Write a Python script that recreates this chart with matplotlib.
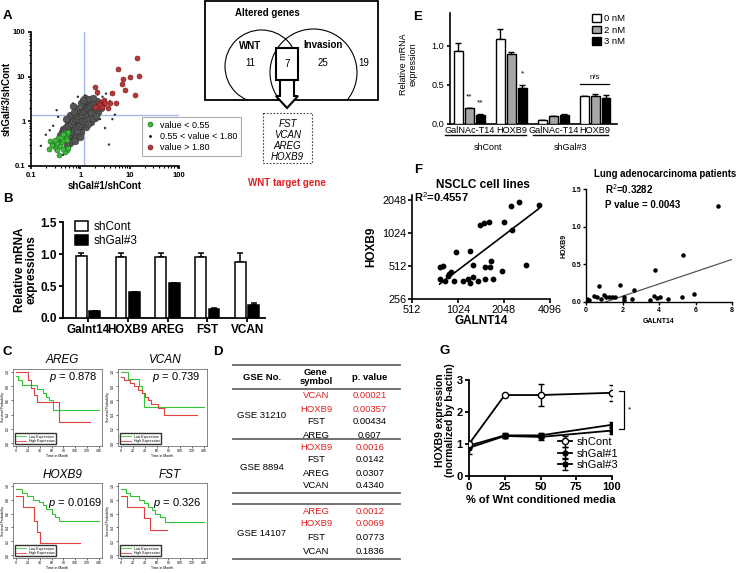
import numpy as np
import matplotlib
matplotlib.use("Agg")
import matplotlib.pyplot as plt
from matplotlib.patches import Rectangle, Circle, Polygon
from matplotlib.lines import Line2D
import matplotlib.ticker as mticker

plt.rcParams['font.family'] = ['Liberation Sans', 'DejaVu Sans']
plt.rcParams['mathtext.fontset'] = 'custom'
plt.rcParams['mathtext.it'] = 'Liberation Sans:italic'
plt.rcParams['mathtext.rm'] = 'Liberation Sans'
plt.rcParams['mathtext.bf'] = 'Liberation Sans:bold'

# ---------------- data ----------------
# A: log10 ratios (shGal#1/shCont, shGal#3/shCont)
grey_lx = [-0.40, -0.36, -0.33, -0.30, -0.28, -0.25, -0.22, -0.20, -0.18, -0.15, -0.12, -0.10, -0.08, -0.05, -0.03,
           0.00, 0.02, 0.05, 0.07, 0.10, 0.12, 0.15, 0.18, 0.20, 0.23, 0.26, 0.28, 0.32, 0.35, 0.40,
           -0.35, -0.30, -0.25, -0.20, -0.15, -0.10, -0.05, 0.00, 0.05, 0.10, 0.15, 0.20, 0.08, -0.08, -0.20, -0.30, 0.02, -0.12,
           -0.28, -0.22, -0.16, -0.10, -0.05, 0.00, 0.05, 0.10, 0.15, 0.20, 0.25, 0.30, 0.35, 0.12, 0.02, -0.08, 0.22, 0.30,
           -0.38, -0.34, -0.32, -0.27, -0.24, -0.23, -0.19, -0.17, -0.14, -0.13, -0.11, -0.09, -0.07, -0.06, -0.04,
           -0.02, -0.01, 0.01, 0.03, 0.04, 0.06, 0.08, 0.09, 0.11, 0.13, 0.14, 0.16, 0.17, 0.19, 0.21, 0.24, 0.25,
           0.27, 0.29, 0.31, 0.33, 0.37, 0.42, -0.42, -0.44, -0.26, 0.15, 0.45,
           -0.20, -0.10, 0.00, 0.10, 0.18, -0.28, -0.15, 0.05, 0.25]
grey_ly = [-0.38, -0.30, -0.34, -0.25, -0.30, -0.20, -0.26, -0.15, -0.20, -0.10, -0.16, -0.05, -0.10, 0.00, -0.06,
           0.05, -0.02, 0.10, 0.03, 0.15, 0.08, 0.20, 0.14, 0.26, 0.20, 0.32, 0.25, 0.36, 0.30, 0.42,
           -0.18, -0.12, -0.06, 0.00, 0.06, 0.12, 0.18, 0.22, 0.28, 0.33, 0.38, 0.42, 0.45, 0.30, 0.15, 0.05, 0.40, 0.22,
           -0.42, -0.36, -0.30, -0.24, -0.18, -0.12, -0.06, 0.00, 0.05, 0.10, 0.15, 0.20, 0.22, -0.12, -0.25, -0.36, -0.02, 0.08,
           -0.25, -0.22, -0.40, -0.35, -0.10, -0.30, -0.05, -0.25, 0.00, -0.20, 0.05, -0.15, 0.10, -0.22, 0.05,
           -0.10, 0.12, -0.05, 0.15, 0.00, 0.20, -0.02, 0.24, 0.04, 0.28, 0.12, 0.30, 0.05, 0.34, 0.18, 0.38, 0.08,
           0.40, 0.30, 0.12, 0.45, 0.36, 0.30, -0.30, -0.45, -0.45, -0.05, 0.40,
           -0.48, -0.45, -0.35, 0.52, 0.50, -0.52, 0.35, 0.48, 0.52]
grey_out_lx = [-0.70, -0.55, -0.60, -0.45, -0.50, 0.40, 0.45, 0.25, -0.15, 0.55, 0.50, 0.58, -0.35, -0.20, 0.60,
               0.35, -0.05, 0.70, -0.80, 0.65, -0.62, 0.52, -0.48, 0.10]
grey_out_ly = [-0.30, -0.10, -0.50, 0.10, -0.65, 0.05, 0.55, 0.55, 0.40, 0.30, -0.15, -0.52, -0.75, -0.55, 0.45,
               0.60, 0.55, 0.15, -0.55, 0.05, -0.20, 0.62, 0.25, 0.58]
green_lx = [-0.616, -0.629, -0.427, -0.278, -0.312, -0.514, -0.548, -0.481, -0.413, -0.380, -0.346, -0.292,
            -0.278, -0.312, -0.245, -0.447, -0.514, -0.582, -0.359, -0.258, -0.400, -0.467, -0.346, -0.278]
green_ly = [-0.448, -0.612, -0.746, -0.649, -0.687, -0.575, -0.515, -0.485, -0.560, -0.463, -0.410, -0.351,
            -0.291, -0.261, -0.239, -0.366, -0.425, -0.537, -0.612, -0.590, -0.351, -0.634, -0.276, -0.425]
red_lx = [1.158, 0.773, 1.185, 1.003, 0.868, 0.854, 0.915, 1.104, 0.645, 0.295, 0.342, 0.720, 0.610, 0.570,
          0.33, 0.38, 0.42, 0.45, 0.48, 0.36, 0.40, 0.44, 0.30, 0.47, 0.50]
red_ly = [1.425, 1.179, 1.015, 0.985, 0.940, 0.843, 0.709, 0.597, 0.627, 0.761, 0.649, 0.410, 0.400, 0.300,
          0.35, 0.40, 0.43, 0.38, 0.44, 0.32, 0.36, 0.33, 0.33, 0.47, 0.40]
cut_x = 1.18
cut_y = 1.36

# Venn
venn_counts = {'WNT': 11, 'both': 7, 'Invasion': 25, 'none': 19}
wnt_targets = ['FST', 'VCAN', 'AREG', 'HOXB9']

# B
b_genes = ['Galnt14', 'HOXB9', 'AREG', 'FST', 'VCAN']
b_shcont = [0.97, 0.96, 0.95, 0.96, 0.87]
b_shcont_err = [0.04, 0.06, 0.07, 0.06, 0.15]
b_shgal3 = [0.11, 0.41, 0.54, 0.14, 0.20]
b_shgal3_err = [0.00, 0.00, 0.00, 0.01, 0.03]

# C: Kaplan-Meier (time in month, survival probability)
km_genes = ['AREG', 'VCAN', 'HOXB9', 'FST']
km_p = ['0.878', '0.739', '0.0169', '0.326']
km_low_t = [[0, 3, 10, 25, 35, 45, 50, 55, 62, 140],
            [0, 11, 30, 35, 39, 140],
            [0, 10, 18, 28, 38, 45, 50, 60, 65, 72, 140],
            [0, 8, 15, 30, 38, 45, 52, 58, 65, 75, 140]]
km_low_s = [[0.94, 0.88, 0.82, 0.82, 0.76, 0.70, 0.65, 0.60, 0.47, 0.47],
            [1.0, 0.90, 0.80, 0.70, 0.51, 0.51],
            [0.95, 0.90, 0.85, 0.80, 0.77, 0.72, 0.66, 0.60, 0.55, 0.50, 0.50],
            [0.95, 0.90, 0.85, 0.80, 0.75, 0.70, 0.65, 0.60, 0.55, 0.48, 0.48]]
km_high_t = [[0, 20, 25, 30, 36, 72, 125],
             [0, 5, 15, 22, 28, 35, 40, 45, 50, 62, 72, 128],
             [0, 12, 30, 35, 40, 108],
             [0, 10, 38, 48, 78]]
km_high_s = [[1.0, 0.88, 0.78, 0.68, 0.58, 0.30, 0.30],
             [0.93, 0.88, 0.85, 0.80, 0.75, 0.70, 0.65, 0.60, 0.55, 0.50, 0.40, 0.40],
             [0.85, 0.70, 0.50, 0.33, 0.17, 0.17],
             [0.85, 0.70, 0.53, 0.37, 0.37]]

# D
gse_ids = ['GSE 31210', 'GSE 8894', 'GSE 14107']
gse_genes = [['VCAN', 'HOXB9', 'FST', 'AREG'],
             ['HOXB9', 'FST', 'AREG', 'VCAN'],
             ['AREG', 'HOXB9', 'FST', 'VCAN']]
gse_pvals = [['0.00021', '0.00357', '0.00434', '0.607'],
             ['0.0016', '0.0142', '0.0307', '0.4340'],
             ['0.0012', '0.0069', '0.0773', '0.1836']]
gse_nsig = [2, 1, 2]

# E
e_groups = ['GalNAc-T14', 'HOXB9', 'GalNAc-T14', 'HOXB9']
e_doses = ['0 nM', '2 nM', '3 nM']
e_vals = [[0.93, 1.09, 0.05, 0.36],
          [0.20, 0.89, 0.10, 0.36],
          [0.12, 0.46, 0.12, 0.33]]
e_errs = [[0.10, 0.12, 0.005, 0.0],
          [0.0, 0.03, 0.005, 0.02],
          [0.01, 0.04, 0.005, 0.04]]

# F left: NSCLC cell lines
f1_x = [2280, 2556, 3465, 2043, 2320, 1420, 1518, 1630, 995, 1226, 776, 821, 1690, 1538, 1653, 1287,
        922, 899, 876, 776, 848, 970, 1107, 1183, 1226, 1293, 1387, 1531, 1745, 1975, 2856]
f1_y = [1835, 1965, 1870, 1305, 1089, 1226, 1261, 1296, 690, 704, 498, 519, 568, 508, 508, 523,
        449, 433, 418, 392, 374, 374, 376, 387, 356, 409, 374, 392, 392, 464, 523]
f1_fit = (1.065, -1.77)   # log2(y) = a*log2(x) + b
f1_fit_range = (776, 3465)
# F right: patients
f2_x = [7.23, 5.3, 3.8, 0.73, 1.88, 2.65, 5.9, 5.26, 3.7, 3.9, 4.07, 3.5, 4.5, 2.5, 2.1, 2.1,
        0.97, 1.1, 1.24, 1.42, 1.57, 0.42, 0.6, 0.15, 0.05, 0.8]
f2_y = [1.28, 0.63, 0.43, 0.21, 0.22, 0.16, 0.10, 0.07, 0.08, 0.05, 0.07, 0.03, 0.04, 0.04, 0.06, 0.03,
        0.09, 0.07, 0.06, 0.06, 0.07, 0.08, 0.06, 0.03, 0.04, 0.04]
f2_fit = (0.0814, -0.086)
f2_fit_range = (1.06, 8.0)

# G
g_x = [0, 25, 50, 100]
g_shcont = [1.0, 2.53, 2.53, 2.60]
g_shcont_err = [0.0, 0.03, 0.35, 0.25]
g_shgal1 = [0.88, 1.25, 1.22, 1.42]
g_shgal1_err = [0.2, 0.05, 0.1, 0.12]
g_shgal3 = [0.95, 1.27, 1.27, 1.60]
g_shgal3_err = [0.05, 0.08, 0.07, 0.1]

# ---------------- figure ----------------
W, H = 741, 573
fig = plt.figure(figsize=(W / 100, H / 100), dpi=100)


def px_axes(x0, y0, x1, y1):
    return fig.add_axes([x0 / W, 1 - y1 / H, (x1 - x0) / W, (y1 - y0) / H])


def gp_style(ax, fs=8, weight='bold', lw=1.3, length=3):
    ax.spines['top'].set_visible(False)
    ax.spines['right'].set_visible(False)
    ax.spines['left'].set_linewidth(lw)
    ax.spines['bottom'].set_linewidth(lw)
    ax.tick_params(width=lw, length=length, labelsize=fs, pad=1.5)
    for lab in ax.get_xticklabels() + ax.get_yticklabels():
        lab.set_fontweight(weight)


ov = fig.add_axes([0, 0, 1, 1], zorder=10)
ov.set_xlim(0, W)
ov.set_ylim(H, 0)
ov.axis('off')
ov.patch.set_alpha(0)

for letter, (lx, ly) in {'A': (7, 16), 'B': (8, 199), 'C': (7, 352), 'D': (218, 352),
                         'E': (418, 17), 'F': (418, 170), 'G': (445, 351)}.items():
    ov.text(lx, ly, letter, fontsize=9.5, fontweight='bold', ha='center', va='center')

# ---- A ----
axA = px_axes(31, 32, 179, 166)
axA.set_xscale('log')
axA.set_yscale('log')
axA.axvline(cut_x, color='#a9b9e9', lw=1, zorder=0)
axA.axhline(cut_y, color='#a9b9e9', lw=1, zorder=0)
axA.scatter(10 ** np.array(grey_out_lx), 10 ** np.array(grey_out_ly), s=3, c='#333333',
            edgecolors='none', zorder=2)
axA.scatter(10 ** np.array(grey_lx), 10 ** np.array(grey_ly), s=24, c='#555555',
            edgecolors='#2a2a2a', linewidths=0.3, zorder=2)
axA.scatter(10 ** np.array(green_lx), 10 ** np.array(green_ly), s=13, c='#3dbb3d',
            edgecolors='#1d6e1d', linewidths=0.4, zorder=3)
axA.scatter(10 ** np.array(red_lx), 10 ** np.array(red_ly), s=13, c='#b33a3a',
            edgecolors='#7a1818', linewidths=0.4, zorder=3)
axA.set_xlim(0.1, 100)
axA.set_ylim(0.1, 100)
for axis in (axA.xaxis, axA.yaxis):
    axis.set_major_locator(mticker.FixedLocator([0.1, 1, 10, 100]))
    axis.set_major_formatter(mticker.FixedFormatter(['0.1', '1', '10', '100']))
    axis.set_minor_locator(mticker.LogLocator(subs=np.arange(2, 10)))
    axis.set_minor_formatter(mticker.NullFormatter())
gp_style(axA, fs=5.5, lw=1.2, length=2.5)
axA.tick_params(which='minor', length=1.5, width=0.8)
axA.set_xlabel('shGal#1/shCont', fontsize=7, fontweight='bold', labelpad=2)
axA.set_ylabel('shGal#3/shCont', fontsize=7, fontweight='bold', labelpad=1)
mid_handle = Line2D([], [], ls='none', marker='.', ms=2, color='black')
lo_handle = Line2D([], [], ls='none', marker='o', ms=3.5, mfc='#3dbb3d', mec='#1d6e1d', mew=0.5)
hi_handle = Line2D([], [], ls='none', marker='o', ms=3.5, mfc='#b33a3a', mec='#7a1818', mew=0.5)
legA = axA.legend([lo_handle, mid_handle, hi_handle],
                  ['value < 0.55', '0.55 < value < 1.80', 'value > 1.80'],
                  loc='upper left', bbox_to_anchor=(142 / W, 1 - 117 / H), bbox_transform=fig.transFigure,
                  fontsize=6.5, fancybox=False, edgecolor='#999999', handlelength=1, handletextpad=0.6,
                  labelspacing=0.25, borderpad=0.4, borderaxespad=0)
legA.get_frame().set_linewidth(0.8)

# ---- Venn ----
box = Rectangle((205, 1), 173, 99, fill=False, ec='black', lw=1.3)
ov.add_patch(box)
for cx, cy, r in [(261.5, 66.5, 36.5), (313.5, 72.5, 43.5)]:
    c = Circle((cx, cy), r, fill=False, ec='black', lw=0.8)
    ov.add_patch(c)
    c.set_clip_path(box)
ov.text(267, 13, 'Altered genes', fontsize=7, fontweight='bold', ha='center', va='center')
ov.text(250, 46, 'WNT', fontsize=7, fontweight='bold', ha='center', va='center')
ov.text(323, 45, 'Invasion', fontsize=7, fontweight='bold', ha='center', va='center')
ov.text(250, 63, str(venn_counts['WNT']), fontsize=7, ha='center', va='center')
ov.text(323, 63, str(venn_counts['Invasion']), fontsize=7, ha='center', va='center')
ov.text(364, 63, str(venn_counts['none']), fontsize=7, ha='center', va='center')
arrow = Polygon([(276, 48), (298, 48), (298, 80), (294, 80), (294, 96), (298, 96), (287, 108),
                 (276, 96), (280, 96), (280, 80), (276, 80)], closed=True, fc='white', ec='black', lw=1.5)
ov.add_patch(arrow)
ov.plot([280, 294], [80, 80], color='black', lw=1.5)
ov.text(287, 64, str(venn_counts['both']), fontsize=7, ha='center', va='center')
ov.add_patch(Rectangle((263, 113), 49, 50, fill=False, ec='#444444', lw=0.8, ls=(0, (1.5, 1.5))))
for i, g in enumerate(wnt_targets):
    ov.text(287.5, 124 + i * 11, g, fontsize=7, style='italic', ha='center', va='center')
ov.text(287, 183, 'WNT target gene', fontsize=7, fontweight='bold', color='#e02020', ha='center', va='center')

# ---- B ----
axB = px_axes(63, 222, 265, 318)
xb = np.arange(len(b_genes))
bw = 0.27
axB.bar(xb - 0.17, b_shcont, bw, color='white', edgecolor='black', lw=1.1, zorder=3, label='shCont')
axB.bar(xb + 0.17, b_shgal3, bw, color='black', edgecolor='black', lw=1.1, zorder=3, label='shGal#3')
axB.errorbar(xb - 0.17, b_shcont, yerr=[np.zeros(len(xb)), b_shcont_err], fmt='none', ecolor='black',
             elinewidth=1.1, capsize=2.5, capthick=1.1, zorder=2)
axB.errorbar(xb + 0.17, b_shgal3, yerr=[np.zeros(len(xb)), b_shgal3_err], fmt='none', ecolor='black',
             elinewidth=1.1, capsize=2.5, capthick=1.1, zorder=2)
axB.set_xlim(-0.63, 4.45)
axB.set_ylim(0, 1.5)
axB.set_yticks([0, 0.5, 1.0, 1.5])
axB.yaxis.set_major_formatter(mticker.FormatStrFormatter('%.1f'))
axB.set_xticks(xb)
axB.set_xticklabels(b_genes)
gp_style(axB, fs=8.5)
axB.set_ylabel('Relative mRNA\nexpressions', fontsize=8.5, fontweight='bold', linespacing=0.95)
axB.yaxis.set_label_coords(-0.125, 0.5)
axB.legend(loc='upper left', bbox_to_anchor=(75 / W, 1 - 221 / H), bbox_transform=fig.transFigure,
           frameon=False, fontsize=8.5, handlelength=1.1, handleheight=0.9, handletextpad=0.5,
           labelspacing=0.2, borderaxespad=0, borderpad=0)

# ---- C ----
km_boxes = [(13, 369, 102, 446), (118, 369, 207, 446), (13, 483, 102, 558), (118, 483, 207, 558)]
km_title_pos = [(62, 360), (165, 360), (63, 475), (170, 475)]
km_p_pos = [(73, 377), (176, 377), (75, 503), (177, 503)]
for k in range(4):
    ax = px_axes(*km_boxes[k])
    ax.step(km_low_t[k], km_low_s[k], where='post', color='#35c435', lw=0.8)
    ax.step(km_high_t[k], km_high_s[k], where='post', color='#e04040', lw=0.8)
    ax.set_xlim(-5.6, 145.6)
    ax.set_ylim(-0.04, 1.04)
    ax.set_xticks(np.arange(0, 141, 20))
    ax.set_yticks(np.arange(0, 1.01, 0.2))
    ax.yaxis.set_major_formatter(mticker.FormatStrFormatter('%.1f'))
    ax.tick_params(labelsize=2.5, length=1.2, width=0.4, pad=1)
    for lab in ax.get_yticklabels():
        lab.set_rotation(90)
        lab.set_va('center')
    for s in ax.spines.values():
        s.set_linewidth(0.5)
        s.set_color('#555555')
    ax.set_xlabel('Time in Month', fontsize=2.5, labelpad=1)
    ax.set_ylabel('Survival Probability', fontsize=2.5, labelpad=1)
    ax.legend([Line2D([], [], color='#35c435', lw=0.6), Line2D([], [], color='#e04040', lw=0.6)],
              ['Low Expression', 'High Expression'], loc='lower left', fontsize=2.5, fancybox=False,
              edgecolor='#333333', handlelength=3, borderpad=0.3, labelspacing=0.2, framealpha=1)
    ov.text(*km_title_pos[k], km_genes[k], fontsize=8.5, style='italic', ha='center', va='center')
    ov.text(*km_p_pos[k], r'$p$ = ' + km_p[k], fontsize=8, ha='center', va='center')

# ---- D table ----
tx0, tx1 = 233, 400
col_gse, col_gene, col_p = 262, 316, 370
for yl in [365, 389, 439, 493, 504, 559]:
    ov.plot([tx0, tx1], [yl, yl], color='#666666', lw=1.3)
ov.text(col_gse, 377, 'GSE No.', fontsize=6.8, fontweight='bold', ha='center', va='center')
ov.text(col_gene, 377, 'Gene\nsymbol', fontsize=6.8, fontweight='bold', ha='center', va='center',
        linespacing=1.0)
ov.text(col_p, 377, 'p. value', fontsize=6.8, fontweight='bold', ha='center', va='center')
block_rows = [[396, 409, 422, 435], [448, 460, 473, 486], [511, 524, 538, 551]]
gse_y = [415, 468, 533]
for b in range(3):
    ov.text(col_gse, gse_y[b], gse_ids[b], fontsize=6.8, ha='center', va='center')
    for r in range(4):
        col = '#e02020' if r < gse_nsig[b] else 'black'
        ov.text(col_gene, block_rows[b][r], gse_genes[b][r], fontsize=6.8, color=col, ha='center', va='center')
        ov.text(col_p, block_rows[b][r], gse_pvals[b][r], fontsize=6.8, color=col, ha='center', va='center')

# ---- E ----
axE = px_axes(450, 13, 617, 124)
xe = np.arange(len(e_groups))
ew = 0.21
e_cols = ['white', '#a6a6a6', 'black']
e_handles = []
for d in range(3):
    pos = xe + (d - 1) * 0.26
    bars = axE.bar(pos, e_vals[d], ew, color=e_cols[d], edgecolor='black', lw=1, zorder=3)
    e_handles.append(bars)
    axE.errorbar(pos, e_vals[d], yerr=[np.zeros(len(xe)), e_errs[d]], fmt='none', ecolor='black',
                 elinewidth=1, capsize=2.2, capthick=1, zorder=2)
axE.set_xlim(-0.46, 3.52)
axE.set_ylim(0, 1.42)
axE.set_yticks([0, 0.5, 1.0])
axE.yaxis.set_major_formatter(mticker.FormatStrFormatter('%.1f'))
axE.set_xticks(xe)
axE.set_xticklabels(e_groups)
gp_style(axE, fs=6.6, weight='normal', lw=1.2, length=2.5)
axE.tick_params(axis='x', length=0, pad=1.5)
axE.text(-0.0, 0.30, '**', fontsize=6, ha='center', va='bottom')
axE.text(0.26, 0.22, '**', fontsize=6, ha='center', va='bottom')
axE.text(1.26, 0.60, '*', fontsize=6, ha='center', va='bottom')
axE.plot([2.64, 3.33], [0.51, 0.51], color='black', lw=0.9)
axE.text(2.98, 0.55, 'n/s', fontsize=5.5, ha='center', va='bottom')
axE.legend(e_handles, e_doses, loc='upper left', bbox_to_anchor=(592 / W, 1 - 14 / H),
           bbox_transform=fig.transFigure, frameon=False, fontsize=6.8, handlelength=0.9,
           handleheight=0.9, handletextpad=0.4, labelspacing=0.25, borderaxespad=0, borderpad=0)
ov.plot([445, 526], [135, 135], color='black', lw=1)
ov.plot([533, 608], [135, 135], color='black', lw=1)
ov.text(488, 148, 'shCont', fontsize=6.5, ha='center', va='center')
ov.text(570, 148, 'shGal#3', fontsize=6.5, ha='center', va='center')
ov.text(408, 64, 'Relative mRNA\nexpression', fontsize=6.5, rotation=90, ha='center', va='center',
        linespacing=1.1)

# ---- F left ----
axF1 = px_axes(412, 195, 550, 299)
axF1.set_xscale('log', base=2)
axF1.set_yscale('log', base=2)
axF1.scatter(f1_x, f1_y, s=10, c='black', zorder=3)
fx = np.array(f1_fit_range, dtype=float)
axF1.plot(fx, 2 ** (f1_fit[0] * np.log2(fx) + f1_fit[1]), color='black', lw=1.2)
axF1.set_xlim(512, 4096)
axF1.set_ylim(256, 2300)
axF1.set_xticks([512, 1024, 2048, 4096])
axF1.set_yticks([256, 512, 1024, 2048])
axF1.xaxis.set_major_formatter(mticker.ScalarFormatter())
axF1.yaxis.set_major_formatter(mticker.ScalarFormatter())
axF1.xaxis.set_minor_locator(mticker.NullLocator())
axF1.yaxis.set_minor_locator(mticker.NullLocator())
gp_style(axF1, fs=7.8, weight='normal', lw=1.2)
axF1.tick_params(axis='y', pad=1)
axF1.set_xlabel('GALNT14', fontsize=8.5, fontweight='bold', labelpad=0)
axF1.set_ylabel('HOXB9', fontsize=8.5, fontweight='bold')
axF1.yaxis.set_label_coords(-0.25, 0.5)
ov.text(483, 185, 'NSCLC cell lines', fontsize=8.5, fontweight='bold', ha='center', va='center')
ov.text(414, 197, r'R$^{2}$=0.4557', fontsize=8, fontweight='bold', ha='left', va='center')

# ---- F right ----
axF2 = px_axes(586, 189, 732, 302)
axF2.scatter(f2_x, f2_y, s=5, c='black', zorder=3)
fx2 = np.array(f2_fit_range)
axF2.plot(fx2, f2_fit[0] * fx2 + f2_fit[1], color='#555555', lw=0.9)
axF2.set_xlim(0, 8)
axF2.set_ylim(0, 1.5)
axF2.set_xticks([0, 2, 4, 6, 8])
axF2.set_yticks([0, 0.5, 1.0, 1.5])
axF2.yaxis.set_major_formatter(mticker.FormatStrFormatter('%.1f'))
gp_style(axF2, fs=5, lw=1.0, length=2)
axF2.set_xlabel('GALNT14', fontsize=5, fontweight='bold', labelpad=3)
axF2.set_ylabel('HOXB9', fontsize=5, fontweight='bold', labelpad=3)
ov.text(665, 174, 'Lung adenocarcinoma patients', fontsize=6.9, fontweight='bold', ha='center', va='center')
ov.text(605, 189, r'R$^{2}$=0.3282', fontsize=7, fontweight='bold', ha='left', va='center')
ov.text(605, 205, 'P value = 0.0043', fontsize=7, fontweight='bold', ha='left', va='center')

# ---- G ----
axG = px_axes(469, 380, 612, 476)
axG.errorbar(g_x, g_shcont, yerr=g_shcont_err, color='black', lw=1.3, marker='o', ms=4.5, mfc='white',
             mec='black', mew=1, capsize=2.5, elinewidth=1, label='shCont', zorder=4)
axG.errorbar(g_x, g_shgal1, yerr=g_shgal1_err, color='black', lw=1.3, marker='o', ms=3.5,
             capsize=2.5, elinewidth=1, label='shGal#1', zorder=3)
axG.errorbar(g_x, g_shgal3, yerr=g_shgal3_err, color='black', lw=1.3, marker='s', ms=3.5,
             capsize=2.5, elinewidth=1, label='shGal#3', zorder=3)
axG.set_xlim(0, 100)
axG.set_ylim(0, 3)
axG.set_xticks([0, 25, 50, 75, 100])
axG.set_yticks([0, 1, 2, 3])
gp_style(axG, fs=8)
axG.set_xlabel('% of Wnt conditioned media', fontsize=8, fontweight='bold', labelpad=2)
ov.text(445, 420, 'HOXB9 expression\n(normalized by b-actin)', fontsize=7.5, fontweight='bold',
        rotation=90, ha='center', va='center', linespacing=1.0)
axG.legend(loc='upper left', bbox_to_anchor=(558 / W, 1 - 437 / H), bbox_transform=fig.transFigure,
           frameon=False, fontsize=8, handlelength=1.3, handletextpad=0.4, labelspacing=0.15,
           borderaxespad=0, borderpad=0)
ov.plot([619, 624, 624, 619], [391, 391, 429, 429], color='black', lw=0.9)
ov.text(629, 410, '*', fontsize=6, ha='center', va='center')

fig.savefig('out.png', dpi=100)
